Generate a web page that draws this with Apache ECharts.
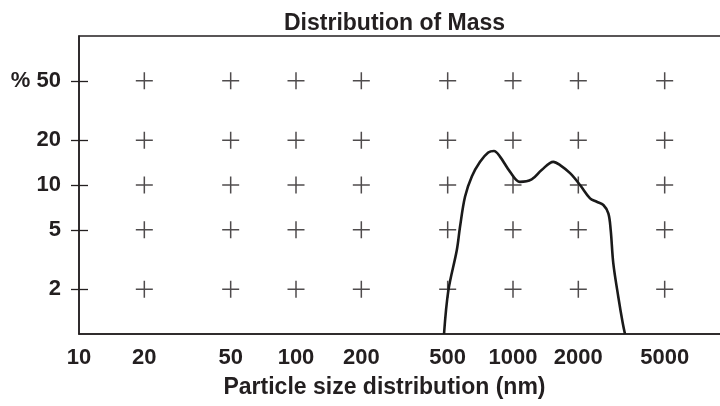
<!DOCTYPE html>
<html>
<head>
<meta charset="utf-8">
<script src="https://cdn.jsdelivr.net/npm/echarts@6/dist/echarts.min.js"></script>
<style>html,body{margin:0;padding:0;background:#fff}#c{width:720px;height:406px}</style>
</head>
<body>
<div id="c"></div>
<script>
// Data
var xTicks = [10, 20, 50, 100, 200, 500, 1000, 2000, 5000];
var yTicks = [2, 5, 10, 20, 50];
var crossX = [20, 50, 100, 200, 500, 1000, 2000, 5000];
var crossY = [2, 5, 10, 20, 50];
var sizeNm = [481, 504, 551, 570, 601, 646, 705, 769, 817, 871, 968, 1076, 1219, 1355, 1534, 1648, 1832, 2037, 2265, 2432, 2609, 2750, 2820, 2899, 3056, 3205, 3282];
var massPct = [1, 1.97, 3.66, 5.24, 8.34, 11.4, 14.3, 16.5, 16.9, 15.5, 12.3, 10.5, 10.9, 12.6, 14.3, 13.6, 12.0, 10.0, 8.14, 7.72, 7.34, 6.45, 4.98, 2.98, 1.78, 1.18, 1];

var ink = '#231f20';
var font = '"Liberation Sans", Arial, sans-serif';

var crosses = [];
crossX.forEach(function (x) { crossY.forEach(function (y) { crosses.push([x, y]); }); });
var curve = sizeNm.map(function (x, i) { return [x, massPct[i]]; });

var chart = echarts.init(document.getElementById('c'), null, {renderer: 'canvas'});
chart.setOption({
  animation: false,
  backgroundColor: '#fff',
  title: {
    text: 'Distribution of Mass',
    left: 279, top: 7,
    textStyle: {fontFamily: font, fontWeight: 'bold', fontSize: 23, color: ink}
  },
  grid: {left: 79, top: 36, width: 651, height: 298, outerBoundsMode: 'none', containLabel: false,
    show: true, borderColor: ink, borderWidth: 1.5, backgroundColor: 'transparent'},
  xAxis: {
    type: 'log', logBase: 10, min: 10, max: 10000,
    name: 'Particle size distribution (nm)', nameLocation: 'middle', nameGap: 42,
    nameTextStyle: {fontFamily: font, fontWeight: 'bold', fontSize: 23, color: ink, padding: [0, 40, 0, 0]},
    axisLine: {show: true, lineStyle: {color: ink, width: 1.5}},
    axisTick: {show: false},
    splitLine: {show: false},
    minorTick: {show: false},
    axisLabel: {customValues: xTicks, margin: 13, fontFamily: font, fontWeight: 'bold', fontSize: 22, color: ink,
      formatter: function (v) { return String(Math.round(v)); }}
  },
  yAxis: [{
    type: 'log', logBase: 10, min: 1, max: 100,
    axisLine: {show: true, lineStyle: {color: ink, width: 1.5}},
    axisTick: {show: true, customValues: yTicks, length: 8, lineStyle: {color: ink, width: 1.3}},
    splitLine: {show: false},
    axisLabel: {customValues: yTicks, margin: 18, fontFamily: font, fontWeight: 'bold', fontSize: 22, color: ink,
      formatter: function (v) { v = Math.round(v); return v === 50 ? '% 50' : String(v); }}
  }, {
    type: 'log', logBase: 10, min: 1, max: 100, position: 'left',
    axisLine: {show: false},
    axisTick: {show: true, inside: true, customValues: yTicks, length: 9, lineStyle: {color: ink, width: 1.3}},
    splitLine: {show: false},
    axisLabel: {show: false}
  }],
  series: [{
    type: 'scatter', data: crosses,
    symbol: 'path://M8,0V16M0,8H16', symbolSize: 17,
    itemStyle: {color: 'transparent', borderColor: ink, borderWidth: 1.5},
    silent: true
  }, {
    type: 'line', data: curve, smooth: 0.35, showSymbol: false, clip: true,
    lineStyle: {color: '#1a1a1a', width: 2.6}
  }]
});
</script>
</body>
</html>
